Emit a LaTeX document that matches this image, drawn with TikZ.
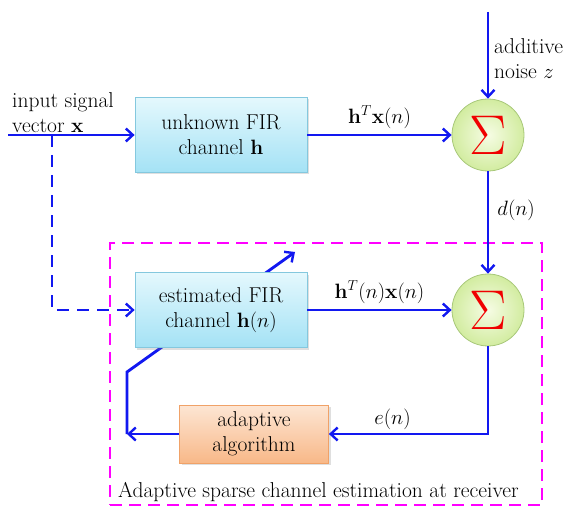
\documentclass[tikz,border=0pt]{standalone}
\usepackage{graphicx}
\usetikzlibrary{arrows.meta,shadows}
\definecolor{sigblue}{RGB}{18,24,240}
\definecolor{framemag}{RGB}{255,0,255}
\definecolor{firtop}{RGB}{228,248,253}
\definecolor{firbot}{RGB}{164,226,245}
\definecolor{firedge}{RGB}{132,200,222}
\definecolor{sumin}{RGB}{246,252,228}
\definecolor{sumout}{RGB}{210,236,160}
\definecolor{sumedge}{RGB}{168,200,122}
\definecolor{algtop}{RGB}{253,230,212}
\definecolor{algbot}{RGB}{248,184,136}
\definecolor{algedge}{RGB}{240,162,104}
\definecolor{sigred}{RGB}{240,0,0}
\tikzset{
  sig/.style={draw=sigblue, line width=2.9pt},
  sigarrow/.style={sig, -{Straight Barb[length=7pt,width=13pt,line width=2.4pt]}},
  firbox/.style={draw=firedge, line width=0.8pt, top color=firtop, bottom color=firbot,
    minimum width=172pt, minimum height=75pt, align=center,
    drop shadow={shadow xshift=2pt, shadow yshift=-2pt, opacity=0.25}},
  algbox/.style={draw=algedge, line width=0.8pt, top color=algtop, bottom color=algbot,
    minimum width=149pt, minimum height=58pt, align=center,
    drop shadow={shadow xshift=2pt, shadow yshift=-2pt, opacity=0.25}},
  sumnode/.style={circle, draw=sumedge, line width=0.8pt, inner sep=0pt,
    inner color=sumin, outer color=sumout, minimum size=72pt, text=sigred},
  lbl/.style={inner sep=2pt}
}
\begin{document}
\begin{tikzpicture}[x=1pt,y=-1pt, font=\fontsize{21.5}{25}\selectfont]
\useasboundingbox (0,0) rectangle (566,511);

% receiver frame
\node[draw=framemag, line width=2.4pt, dash pattern=on 12pt off 7pt,
      minimum width=432pt, minimum height=262pt, inner sep=0pt] (frame) at (326,374) {};
\node[anchor=west, lbl] (cap) at (116,492) {Adaptive sparse channel estimation at receiver};

% free ends of connectors
\coordinate (in) at (8,135);
\coordinate (tap) at (52,135);
\coordinate (nz) at (488,12);
\coordinate (fbc) at (127,434);
\coordinate (fbk) at (127,372);
\coordinate (fbt) at (295,252);

% adaptation arrow passing behind the estimated channel
\draw[sigarrow] (fbc) -- (fbk) -- (fbt);

% blocks
\node[firbox] (fir) at (221,135) {unknown FIR\\channel $\mathbf{h}$};
\node[firbox] (est) at (221,310) {estimated FIR\\channel $\mathbf{h}(n)$};
\node[algbox] (alg) at (254,434) {adaptive\\algorithm};
\node[sumnode] (s1) at (488,135) {\scalebox{2.7}{$\Sigma$}};
\node[sumnode] (s2) at (488,310) {\scalebox{2.7}{$\Sigma$}};

% texts
\node[anchor=west, align=left, lbl] (intext) at (10,113) {input signal\\vector $\mathbf{x}$};
\node[anchor=west, align=left, lbl] (nztext) at (492,59) {additive\\noise $z$};

% connectors
\draw[sigarrow] (in) -- (fir.west);
\draw[sigarrow] (nz) -- (s1.north);
\draw[sigarrow] (fir.east) -- (s1.west)
  node[midway, above, lbl, yshift=3pt] (hx) {$\mathbf{h}^T\mathbf{x}(n)$};
\draw[sigarrow] (s1.south) -- (s2.north)
  node[pos=0.38, right, lbl, xshift=6pt] (dn) {$d(n)$};
\draw[sigarrow] (est.east) -- (s2.west)
  node[midway, above, lbl, yshift=3pt] (hxn) {$\mathbf{h}^T(n)\mathbf{x}(n)$};
\draw[sigarrow] (s2.south) |- (alg.east)
  node[pos=0.8, above, lbl, yshift=1pt] (en) {$e(n)$};
\draw[sigarrow] (alg.west) -- (fbc);
\draw[sigarrow, dash pattern=on 12pt off 8pt] (tap) |- (est.west);
\end{tikzpicture}
\end{document}
